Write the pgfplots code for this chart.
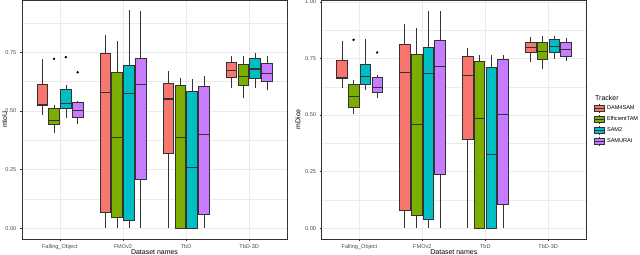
\documentclass[border=0pt]{standalone}
\usepackage{pgfplots}
\pgfplotsset{compat=1.18}
\usepackage{fontspec}
\setmainfont{Liberation Sans}
\definecolor{c1}{HTML}{F8766D}
\definecolor{c2}{HTML}{7CAE00}
\definecolor{c3}{HTML}{00BFC4}
\definecolor{c4}{HTML}{C77CFF}
\definecolor{grey20}{HTML}{333333}
\definecolor{grey30}{HTML}{4D4D4D}
\definecolor{grey92}{HTML}{EBEBEB}
% #1 position, #2 lower whisker, #3 lower quartile, #4 median, #5 upper quartile, #6 upper whisker, #7 colour
\newcommand{\bx}[7]{%
 \pgfmathsetmacro{\xl}{#1-0.0845}\pgfmathsetmacro{\xr}{#1+0.0845}%
 \edef\tmp{%
 \noexpand\addplot[forget plot, grey20, line width=0.5bp] coordinates {(#1,#2) (#1,#3)};
 \noexpand\addplot[forget plot, grey20, line width=0.5bp] coordinates {(#1,#5) (#1,#6)};
 \noexpand\addplot[forget plot, fill=#7, draw=grey20, line width=0.55bp] coordinates {(\xl,#3) (\xr,#3) (\xr,#5) (\xl,#5)} -- cycle;
 \noexpand\addplot[forget plot, grey20, line width=1.1bp] coordinates {(\xl,#4) (\xr,#4)};
 }\tmp}
\pgfplotsset{
 myax/.style={
  scale only axis, width=265bp, height=239bp, anchor=south west,
  xmin=0.4, xmax=4.6,
  xtick={1,2,3,4}, xticklabels={Falling\_Object,FMOv2,TbD,TbD-3D},
  tick pos=left, tick align=outside, major tick length=2.2bp, minor tick length=0pt,
  every tick/.style={grey20, line width=0.5bp},
  axis line style={grey20, line width=0.6bp},
  grid=both, major grid style={grey92, line width=0.6bp}, minor grid style={grey92, line width=0.3bp},
  tick label style={font=\fontsize{5.6}{6}\selectfont, text=grey30},
  label style={font=\fontsize{7}{8}\selectfont},
  /pgf/number format/fixed, /pgf/number format/fixed zerofill,
  /pgf/number format/precision=2, /pgf/number format/assume math mode=true,
  xlabel={Dataset names},
  xlabel style={at={(axis description cs:0.5,-0.054)}, anchor=center},
 }
}
\begin{document}
\begin{tikzpicture}
\path[use as bounding box] (0bp,0bp) rectangle (640bp,255bp);
% ---------------- left: mIoU
\begin{axis}[myax, at={(22bp,16bp)},
  ymin=-0.046, ymax=0.973,
  ytick={0,0.25,0.5,0.75}, minor ytick={0.125,0.375,0.625,0.875},
  ylabel={mIoU},
  ylabel style={at={(axis description cs:-0.065,0.5)}, anchor=center}]
% Falling_Object
\bx{0.71875}{0.484}{0.525}{0.529}{0.613}{0.722}{c1}
\bx{0.90625}{0.405}{0.445}{0.458}{0.511}{0.525}{c2}
\bx{1.09375}{0.472}{0.511}{0.532}{0.592}{0.611}{c3}
\bx{1.28125}{0.446}{0.474}{0.502}{0.536}{0.543}{c4}
% FMOv2
\bx{1.71875}{0}{0.066}{0.579}{0.746}{0.822}{c1}
\bx{1.90625}{0}{0.047}{0.385}{0.665}{0.800}{c2}
\bx{2.09375}{0}{0.033}{0.575}{0.693}{0.929}{c3}
\bx{2.28125}{0}{0.210}{0.611}{0.726}{0.926}{c4}
% TbD
\bx{2.71875}{0}{0.320}{0.551}{0.619}{0.672}{c1}
\bx{2.90625}{0}{0}{0.385}{0.611}{0.641}{c2}
\bx{3.09375}{0}{0}{0.260}{0.585}{0.636}{c3}
\bx{3.28125}{0}{0.060}{0.401}{0.605}{0.648}{c4}
% TbD-3D
\bx{3.71875}{0.596}{0.642}{0.673}{0.708}{0.733}{c1}
\bx{3.90625}{0.556}{0.608}{0.648}{0.699}{0.736}{c2}
\bx{4.09375}{0.599}{0.639}{0.679}{0.725}{0.746}{c3}
\bx{4.28125}{0.588}{0.628}{0.660}{0.703}{0.733}{c4}
\addplot[forget plot, only marks, mark=*, mark size=1bp, black]
 coordinates {(0.90625,0.722) (1.09375,0.729) (1.28125,0.665)};
\end{axis}
% ---------------- right: mDice
\begin{axis}[myax, at={(321.7bp,16bp)}, width=264.3bp,
  ymin=-0.048, ymax=1.008,
  ytick={0,0.25,0.5,0.75,1}, minor ytick={0.125,0.375,0.625,0.875},
  ylabel={mDice},
  ylabel style={at={(axis description cs:-0.09,0.5)}, anchor=center},
  legend style={at={(axis description cs:1.03,0.567)}, anchor=north west,
    draw=none, fill=none, font=\fontsize{5.6}{6}\selectfont, text=black,
    row sep=1.5bp, inner sep=0pt, cells={anchor=west},
    nodes={inner xsep=2bp, inner ysep=0pt}},
  legend image code/.code={
    \draw[grey20, line width=0.5bp] (5bp,-4.5bp) -- (5bp,4.5bp);
    \draw[#1, draw=grey20, line width=0.5bp] (0bp,-2.8bp) rectangle (10bp,2.8bp);
    \draw[grey20, line width=0.9bp] (0bp,0bp) -- (10bp,0bp);
  }]
% Falling_Object
\bx{0.71875}{0.621}{0.662}{0.664}{0.743}{0.827}{c1}
\bx{0.90625}{0.506}{0.535}{0.580}{0.636}{0.653}{c2}
\bx{1.09375}{0.611}{0.634}{0.670}{0.726}{0.835}{c3}
\bx{1.28125}{0.577}{0.600}{0.622}{0.668}{0.677}{c4}
% FMOv2
\bx{1.71875}{0}{0.078}{0.689}{0.811}{0.900}{c1}
\bx{1.90625}{0}{0.058}{0.456}{0.770}{0.883}{c2}
\bx{2.09375}{0}{0.041}{0.683}{0.801}{0.960}{c3}
\bx{2.28125}{0}{0.240}{0.715}{0.830}{0.960}{c4}
% TbD
\bx{2.71875}{0}{0.391}{0.676}{0.758}{0.798}{c1}
\bx{2.90625}{0}{0}{0.485}{0.737}{0.767}{c2}
\bx{3.09375}{0}{0}{0.326}{0.712}{0.764}{c3}
\bx{3.28125}{0}{0.105}{0.503}{0.745}{0.765}{c4}
% TbD-3D
\bx{3.71875}{0.736}{0.776}{0.798}{0.820}{0.845}{c1}
\bx{3.90625}{0.702}{0.748}{0.780}{0.820}{0.847}{c2}
\bx{4.09375}{0.746}{0.776}{0.801}{0.835}{0.851}{c3}
\bx{4.28125}{0.739}{0.761}{0.789}{0.820}{0.842}{c4}
\addplot[forget plot, only marks, mark=*, mark size=1bp, black]
 coordinates {(0.90625,0.832) (1.28125,0.776)};
\addlegendimage{fill=c1}\addlegendentry{DAM4SAM}
\addlegendimage{fill=c2}\addlegendentry{EfficientTAM}
\addlegendimage{fill=c3}\addlegendentry{SAM2}
\addlegendimage{fill=c4}\addlegendentry{SAMURAI}
\end{axis}
\node[anchor=west, font=\fontsize{7}{8}\selectfont, inner sep=0pt] at (595bp,157.3bp) {Tracker};
\end{tikzpicture}
\end{document}
